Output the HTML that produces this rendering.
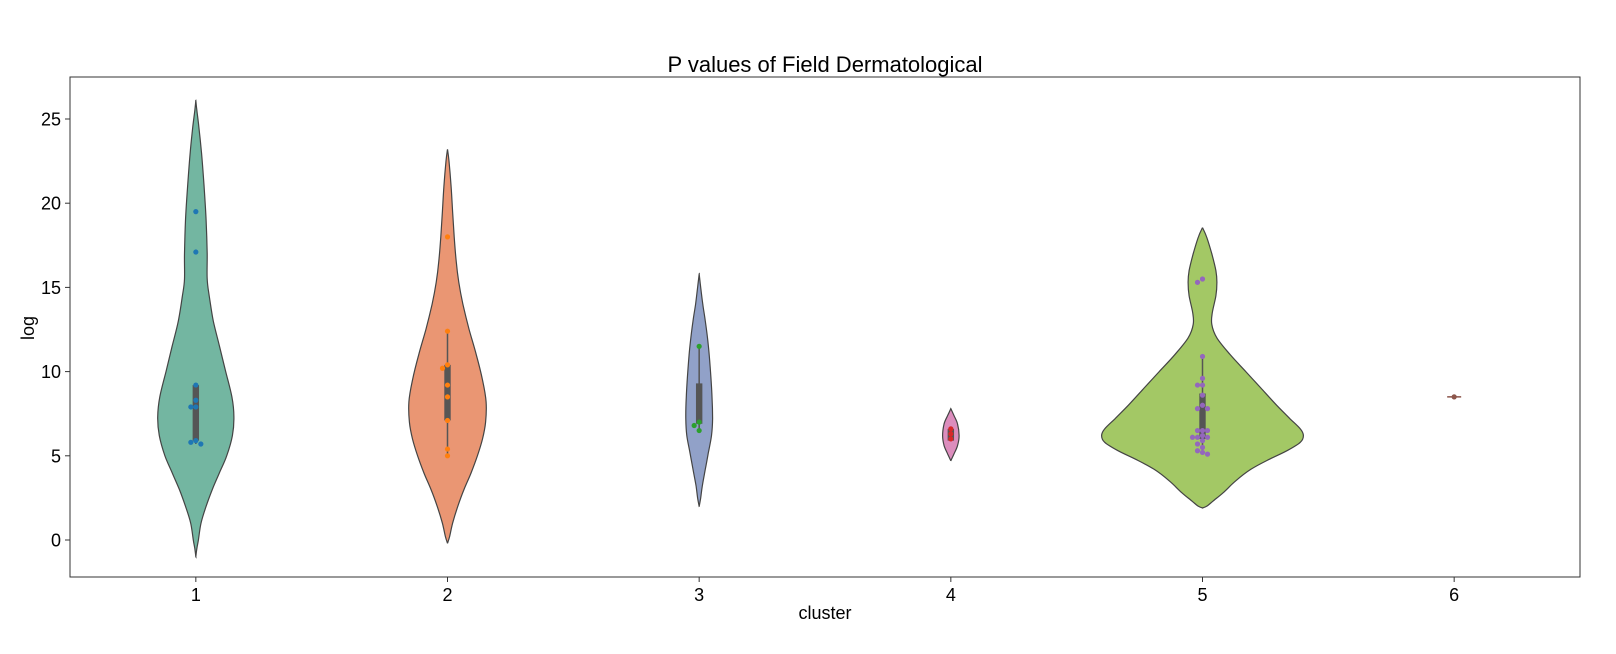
<!DOCTYPE html>
<html><head><meta charset="utf-8"><style>
body{margin:0;background:#fff}
svg text{font-family:"Liberation Sans","DejaVu Sans",sans-serif;fill:#000}
</style></head><body>
<svg id="chart" width="1616" height="649" xmlns="http://www.w3.org/2000/svg">
<rect x="0" y="0" width="1616" height="649" fill="#fff"/>
<g id="plot"></g>
<rect x="70" y="77" width="1510" height="500" fill="none" stroke="#333" stroke-width="1"/>
<g id="axes"></g>
<text x="825" y="72" font-size="22" text-anchor="middle">P values of Field Dermatological</text>
<text x="825" y="619" font-size="18" text-anchor="middle">cluster</text>
<text x="34" y="328" font-size="18" text-anchor="middle" transform="rotate(-90 34 328)">log</text>
</svg>
<script>
const categories = ["1","2","3","4","5","6"];
const yTicks = [0,5,10,15,20,25];
const fillColors = ["#73b6a1","#ea9673","#91a1c8","#dc8dbd","#a3c865","#d9c04a"];
const pointColors = ["#1f77b4","#ff7f0e","#2ca02c","#d62728","#9467bd","#8c564b"];
// violin profiles: [value, half-width]
const profile1 = [[26.1,0],[25.5,1],[24.5,3],[23,5.5],[21,8],[19,10],[17,11],[15.5,11],[14.5,13],[13,17],[11.5,23],[10,29],[8.5,35],[7.3,37],[6.2,35.5],[5,30],[4,23],[3,16],[2,10],[1,5],[0,2.5],[-0.5,1],[-1,0]];
const profile2 = [[23.2,0],[22.5,1.5],[21,3.5],[19.5,5],[18,6.5],[16.5,8.5],[15.3,11],[14,15],[12.5,21],[11,28],[9.5,34],[8.2,37.5],[7,37],[6,34],[5,29],[4,23],[3,16],[2,10],[1,5],[0.2,2],[-0.2,0]];
const profile3 = [[15.8,0],[15,1.5],[14,3.5],[13,6],[11.5,9],[10,11],[8.5,12.5],[7.2,13],[6.2,12],[5.2,9],[4.2,6],[3.2,3],[2.5,1.5],[2,0]];
const profile4 = [[7.8,0],[7.4,3],[6.9,6.5],[6.2,8],[5.6,6.5],[5.1,3],[4.7,0]];
const profile5 = [[18.55,0],[18,4],[17,9],[16,13],[15.3,14],[14.5,13],[13.5,9.5],[12.8,9],[12,14],[11,27],[10,42],[9,57],[8,72],[7.2,85],[6.6,95],[6.2,98],[5.8,95],[5.3,82],[4.8,65],[4.2,47],[3.5,32],[2.8,20],[2.3,10],[2.0,4],[1.9,0]];
const profiles = [profile1,profile2,profile3,profile4,profile5,null];
// box stats: [whiskerLow, q1, q3, whiskerHigh]
const boxStats = [[5.7,5.9,9.2,9.2],[5.0,7.1,10.4,12.4],[6.5,6.9,9.3,11.5],[5.9,5.9,6.6,6.6],[5.1,6.0,8.7,10.9],[8.5,8.5,8.5,8.5]];
const points1 = [19.5,17.1,9.2,8.3,7.9,7.9,5.9,5.8,5.7];
const points2 = [18.0,12.4,10.4,10.2,9.2,8.5,7.1,5.4,5.0];
const points3 = [11.5,7.0,6.8,6.5];
const points4 = [6.6,6.3,6.0];
const points5 = [15.5,15.3,10.9,9.6,9.2,9.2,8.6,8.0,7.8,7.8,6.5,6.5,6.5,6.2,6.1,6.1,6.1,5.9,5.7,5.5,5.3,5.2,5.1];
const points6 = [8.5];
const pointSets = [points1,points2,points3,points4,points5,points6];

const X0=70, X1=1580, Y0ref=540, PXU=16.84, WS=1.03;
function xPos(i){ return X0 + (X1-X0)*(i+0.5)/categories.length; }
function yPos(v){ return Y0ref - v*PXU; }
const NS="http://www.w3.org/2000/svg";
function mk(tag, attrs, parent){ const e=document.createElementNS(NS,tag); for(const k in attrs) e.setAttribute(k,attrs[k]); parent.appendChild(e); return e; }
const plot=document.getElementById('plot'), axes=document.getElementById('axes');

function smoothSide(pts){
  let d="";
  for(let i=0;i<pts.length-1;i++){
    const p0=pts[Math.max(i-1,0)],p1=pts[i],p2=pts[i+1],p3=pts[Math.min(i+2,pts.length-1)];
    const c1=[p1[0]+(p2[0]-p0[0])/6,p1[1]+(p2[1]-p0[1])/6];
    const c2=[p2[0]-(p3[0]-p1[0])/6,p2[1]-(p3[1]-p1[1])/6];
    d+=` C${c1[0].toFixed(1)},${c1[1].toFixed(1)} ${c2[0].toFixed(1)},${c2[1].toFixed(1)} ${p2[0].toFixed(1)},${p2[1].toFixed(1)}`;
  }
  return d;
}

categories.forEach((c,i)=>{
  const cx=xPos(i);
  const prof=profiles[i];
  if(prof){
    const right=prof.map(p=>[cx+p[1]*WS,yPos(p[0])]);
    const left=prof.slice().reverse().map(p=>[cx-p[1]*WS,yPos(p[0])]);
    let d=`M${right[0][0]},${right[0][1]}`+smoothSide(right)+` L${left[0][0]},${left[0][1]}`+smoothSide(left)+"Z";
    const v=mk('path',{d:d,fill:fillColors[i],stroke:"#444",'stroke-width':1.2},plot);
    
    
  }
  const b=boxStats[i];
  if(i<5){
    const w=mk('line',{x1:cx,x2:cx,y1:yPos(b[0]),y2:yPos(b[3]),stroke:"#555",'stroke-width':1.5},plot);
    
    
    const bx=mk('rect',{x:cx-3.2,y:yPos(b[2]),width:6.4,height:Math.max(1,yPos(b[1])-yPos(b[2])),fill:"#555"},plot);
    
    
  } else {
    const l=mk('line',{x1:cx-7,x2:cx+7,y1:yPos(b[1]),y2:yPos(b[1]),stroke:"#8c564b",'stroke-width':1.5},plot);
    
    
  }
  const placed=[];
  pointSets[i].forEach(v=>{
    const py=yPos(v);
    let off=0;
    const cands=[0,-5,5,-10,10,-15,15];
    for(let k=0;k<cands.length;k++){
      off=cands[k];
      if(!placed.some(p=>Math.hypot(p[0]-off,p[1]-py)<4.5)) break;
    }
    placed.push([off,py]);
    const dot=mk('circle',{cx:cx+off,cy:py,r:2.6,fill:pointColors[i]},plot);
    
    
  });
  const t=mk('line',{x1:cx,x2:cx,y1:577,y2:582,stroke:"#333"},axes);
  
  
  const tl=mk('text',{x:cx,y:601,'font-size':18,'text-anchor':'middle'},axes);
  tl.textContent=c;
  
  
});
yTicks.forEach(v=>{
  const y=yPos(v);
  const t=mk('line',{x1:65,x2:70,y1:y,y2:y,stroke:"#333"},axes);
  
  
  const tl=mk('text',{x:61,y:y+6.5,'font-size':18,'text-anchor':'end'},axes);
  tl.textContent=v;
  
  
});
</script>
</body></html>
